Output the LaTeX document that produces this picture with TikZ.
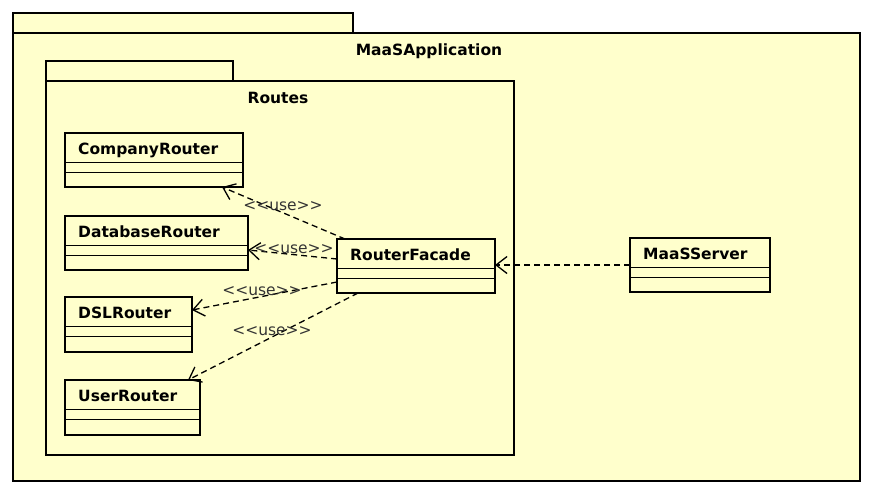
\documentclass[tikz,border=0pt]{standalone}
\usepackage{fontspec}
\setmainfont{DejaVu Sans}
\usetikzlibrary{arrows.meta}
\definecolor{umlfill}{RGB}{255,255,204}
\tikzset{
  pkgbox/.style={draw, line width=2.8pt, fill=umlfill, outer sep=0pt, inner sep=0pt, anchor=north west},
  clsbox/.style={draw, line width=2.8pt, fill=umlfill, outer sep=0pt, inner sep=0pt, anchor=north west},
  clsname/.style={font=\bfseries\fontsize{15.5}{18}\selectfont, inner sep=0pt},
  pkglbl/.style={font=\bfseries\fontsize{15.5}{18}\selectfont, inner sep=0pt, anchor=base},
  sepline/.style={line width=1pt},
  uses/.style={dash pattern=on 6pt off 4pt, line width=1.3pt,
    -{Straight Barb[length=11pt,width=17pt,line width=1.3pt]}},
  uselbl/.style={font=\fontsize{15.5}{18}\selectfont, text=black!80, inner sep=0pt, anchor=base}
}
\newcommand\umlcls[6]{%
  \node[clsbox, minimum width=#4pt, minimum height=#5pt] (#1) at (#2,#3) {};
  \node[clsname, anchor=base west] (#1-name) at ([xshift=13pt,yshift=-21pt]#1.north west) {#6};
  \draw[sepline] ([yshift=-29pt]#1.north west) -- ([yshift=-29pt]#1.north east);
  \draw[sepline] ([yshift=-39pt]#1.north west) -- ([yshift=-39pt]#1.north east);
}
\newcommand\uselabel{<{}<use>{}>}
\begin{document}
\begin{tikzpicture}[x=1pt,y=-1pt]
\fill[white] (0,0) rectangle (873,496);
\useasboundingbox (0,0) rectangle (873,496);
% outer package
\node[pkgbox, minimum width=340pt, minimum height=20pt] (apptab) at (13,13) {};
\node[pkgbox, minimum width=847pt, minimum height=448pt] (app) at (13,33) {};
\node[pkglbl] (applbl) at (429,55) {MaaSApplication};
% inner package
\node[pkgbox, minimum width=187pt, minimum height=20pt] (routestab) at (46,61) {};
\node[pkgbox, minimum width=468pt, minimum height=374pt] (routes) at (46,81) {};
\node[pkglbl] (routeslbl) at (278,103) {Routes};
% classes
\umlcls{company}{65}{133}{178}{54}{CompanyRouter}
\umlcls{database}{65}{216}{183}{54}{DatabaseRouter}
\umlcls{dsl}{65}{297}{127}{55}{DSLRouter}
\umlcls{user}{65}{380}{135}{55}{UserRouter}
\umlcls{facade}{337}{239}{158}{54}{RouterFacade}
\umlcls{server}{630}{238}{140}{54}{MaaSServer}
% dependencies
\draw[uses] ([xshift=8pt]facade.north west) -- ([xshift=-21pt]company.south east);
\draw[uses] ([yshift=7pt]facade.west) -- ([yshift=-7pt]database.east);
\draw[uses] ([yshift=-16pt]facade.west) -- ([yshift=14.5pt]dsl.east);
\draw[uses] ([xshift=21pt]facade.south west) -- ([xshift=-12pt]user.north east);
\draw[uses] (server.west) -- (server.west -| facade.east);
% labels
\node[uselbl] (l1) at (283,210) {\uselabel};
\node[uselbl] (l2) at (294,253) {\uselabel};
\node[uselbl] (l3) at (262,295) {\uselabel};
\node[uselbl] (l4) at (272,335) {\uselabel};
\end{tikzpicture}
\end{document}
